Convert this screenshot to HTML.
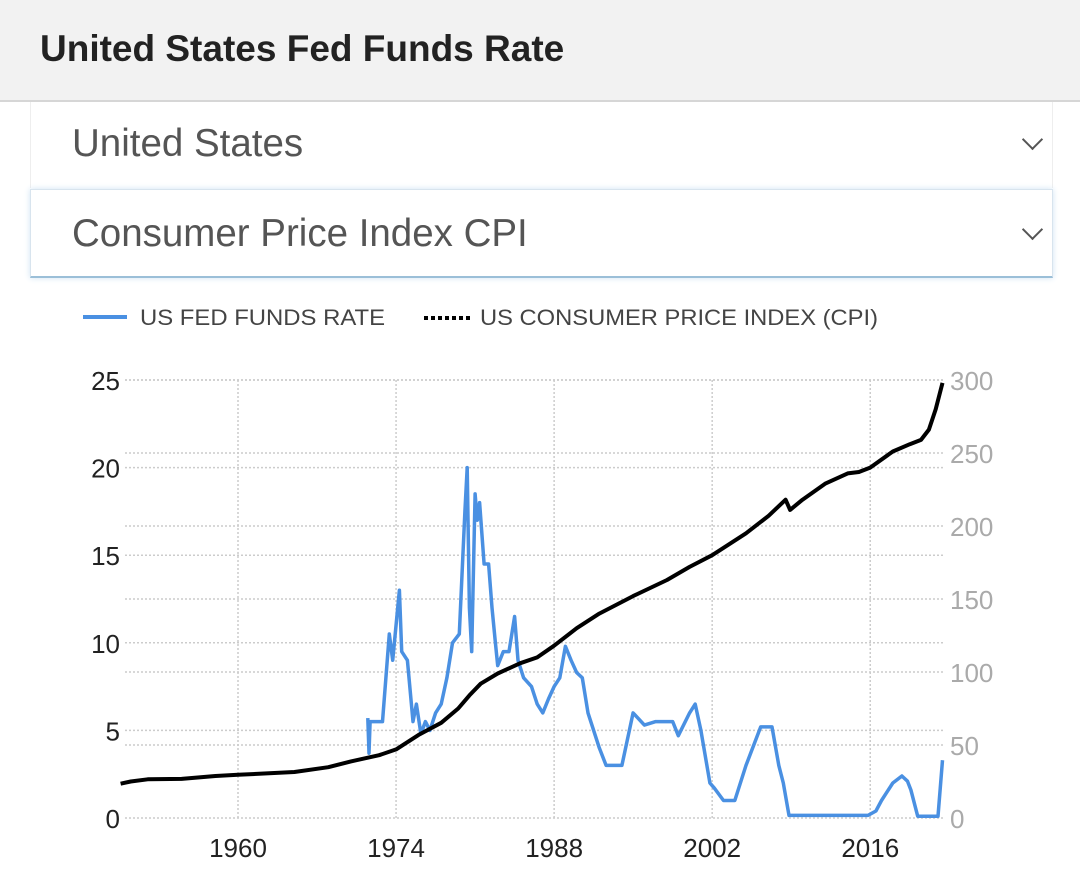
<!DOCTYPE html>
<html><head><meta charset="utf-8">
<style>
html,body{margin:0;padding:0;background:#fff;}
body{width:1080px;height:896px;position:relative;overflow:hidden;font-family:"Liberation Sans",sans-serif;}
.hdr{position:absolute;left:0;top:0;width:1080px;height:100px;background:#f2f2f2;border-bottom:2px solid #d6d6d6;}
.hdr h1{position:absolute;left:40px;top:28px;margin:0;font-size:37px;font-weight:bold;color:#222;}
.dd{position:absolute;left:30px;width:1023px;box-sizing:border-box;font-size:38.5px;color:#555;}
.dd span{position:absolute;left:41px;}
.chev{position:absolute;right:12px;width:13px;height:13px;border-right:2px solid #555;border-bottom:2px solid #555;transform:rotate(45deg);}
</style></head><body>
<div class="hdr"><h1>United States Fed Funds Rate</h1></div>
<div class="dd" style="top:102px;height:86px;border-left:1px solid #eee;border-right:1px solid #eee;"><span style="top:20px">United States</span><div class="chev" style="top:30px"></div></div>
<div class="dd" style="top:189px;height:89px;border:1px solid #d8e4ee;border-bottom:2px solid #9bbfd8;box-shadow:0 0 6px #cfe3f3;"><span style="top:22px">Consumer Price Index CPI</span><div class="chev" style="top:32px"></div></div>
<svg width="1080" height="896" style="position:absolute;left:0;top:0" id="s">
<line x1="83" y1="317" x2="127" y2="317" stroke="#4a90e2" stroke-width="4"/>
<text x="140" y="325" font-size="22" fill="#444" textLength="245" lengthAdjust="spacingAndGlyphs">US FED FUNDS RATE</text>
<line x1="424" y1="318" x2="470" y2="318" stroke="#000" stroke-width="4" stroke-dasharray="4,3"/>
<text x="480" y="325" font-size="22" fill="#444" textLength="398" lengthAdjust="spacingAndGlyphs">US CONSUMER PRICE INDEX (CPI)</text>
<g id="grid" stroke="#ccc" stroke-width="1.5" stroke-dasharray="2,2"></g>
<g id="lab" font-size="26" fill="#222"></g>
<path id="ff" fill="none" stroke="#4a90e2" stroke-width="3.5" stroke-linejoin="round"/>
<path id="cpi" fill="none" stroke="#000" stroke-width="4" stroke-linejoin="round"/>
</svg>
<script>
var X=function(y){return 238+(y-1960)*11.29;};
var YL=function(v){return 818-v*17.52;};
var YR=function(v){return 818-v*1.46;};
var g=document.getElementById('grid'),l=document.getElementById('lab'),NS='http://www.w3.org/2000/svg';
function el(p,t,a,txt){var e=document.createElementNS(NS,t);for(var k in a)e.setAttribute(k,a[k]);if(txt!=null)e.textContent=txt;p.appendChild(e);}
for(var v=0;v<=25;v+=5){el(g,'line',{x1:125,x2:945,y1:YL(v),y2:YL(v)});el(l,'text',{x:120,y:YL(v)+10,'text-anchor':'end'},v);}
for(var v=50;v<=300;v+=50){el(g,'line',{x1:125,x2:945,y1:YR(v),y2:YR(v)});}
for(var v=0;v<=300;v+=50){el(l,'text',{x:950,y:YR(v)+10,fill:'#aaa'},v);}
[1960,1974,1988,2002,2016].forEach(function(y){el(g,'line',{x1:X(y),x2:X(y),y1:380,y2:818});el(l,'text',{x:X(y),y:857,'text-anchor':'middle'},y);});
var ff=[[1971.5,5.7],[1971.6,3.7],[1971.7,5.5],[1972.8,5.5],[1973.4,10.5],[1973.7,9],[1974.3,13],[1974.5,9.5],[1975,9],[1975.5,5.5],[1975.8,6.5],[1976.2,4.8],[1976.6,5.5],[1977,5],[1977.5,6],[1978,6.5],[1978.5,8],[1979,10],[1979.6,10.5],[1980.1,17.5],[1980.3,20],[1980.5,12],[1980.7,9.5],[1981,18.5],[1981.2,17],[1981.4,18],[1981.8,14.5],[1982.2,14.5],[1982.5,12],[1982.8,10],[1983,8.7],[1983.5,9.5],[1984,9.5],[1984.5,11.5],[1984.8,9],[1985.3,8],[1986,7.5],[1986.5,6.5],[1987,6],[1987.5,6.8],[1988,7.5],[1988.5,8],[1989,9.8],[1989.5,9],[1990,8.3],[1990.5,8],[1991,6],[1992,4],[1992.6,3],[1994,3],[1995,6],[1996,5.3],[1997,5.5],[1998.5,5.5],[1999,4.7],[2000,6],[2000.5,6.5],[2001,5],[2001.8,2],[2002.2,1.7],[2003,1],[2004,1],[2005,3],[2006.3,5.2],[2007.3,5.2],[2007.9,3],[2008.3,2],[2008.8,0.15],[2015.8,0.15],[2016.5,0.4],[2017,1],[2018,2],[2018.8,2.4],[2019.3,2.1],[2019.6,1.6],[2020.2,0.1],[2022,0.1],[2022.4,3.3]];
var cpi=[[1949.6,23.5],[1950.5,25],[1952,26.5],[1955,26.8],[1958,28.8],[1960,29.6],[1965,31.5],[1968,34.8],[1970,38.8],[1972.5,43],[1974,47],[1976,56.9],[1978,65.2],[1979.5,75],[1980.5,84],[1981.5,92],[1983,99],[1985,106],[1986.5,110],[1988,118],[1990,130],[1992,140],[1995,152],[1998,163],[2000,172],[2002,180],[2005,195],[2007,207],[2008.5,218],[2008.9,211],[2010,218],[2012,229],[2014,236],[2015,237],[2016,240],[2018,251],[2019.5,256],[2020.5,259],[2021.2,266],[2021.8,280],[2022.4,298]];
function path(d,Y){return d.map(function(p,i){return (i?'L':'M')+X(p[0]).toFixed(1)+' '+Y(p[1]).toFixed(1);}).join(' ');}
document.getElementById('ff').setAttribute('d',path(ff,YL));
document.getElementById('cpi').setAttribute('d',path(cpi,YR));
</script>
</body></html>
